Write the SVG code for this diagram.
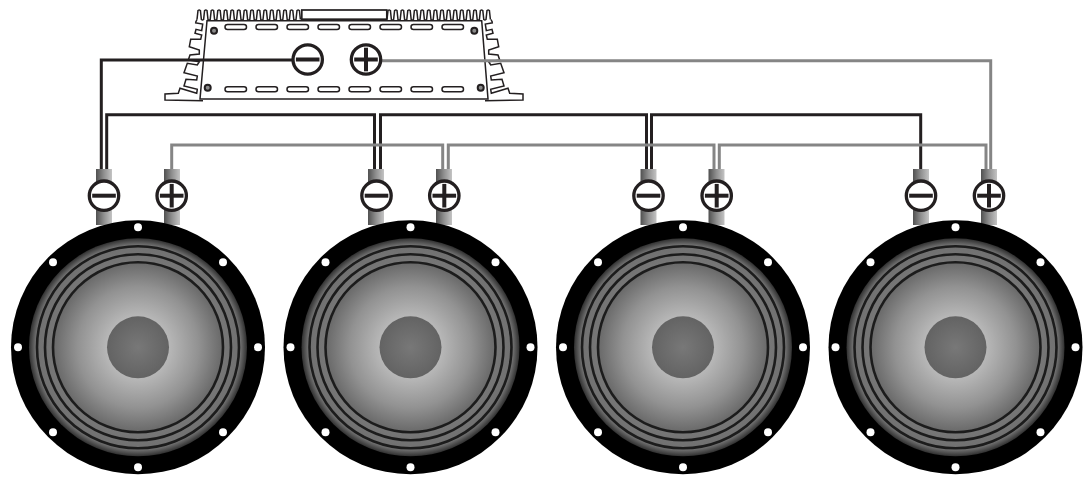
<svg xmlns="http://www.w3.org/2000/svg" xmlns:xlink="http://www.w3.org/1999/xlink" width="1088" height="482" viewBox="0 0 1088 482">
<defs>
<linearGradient id="tube"><stop offset="0" stop-color="#505050"/><stop offset="0.5" stop-color="#909090"/><stop offset="1" stop-color="#c4c4c4"/></linearGradient>
<radialGradient id="cone"><stop offset="0" stop-color="#c6c6c6"/><stop offset="0.38" stop-color="#b6b6b6"/><stop offset="0.72" stop-color="#929292"/><stop offset="1" stop-color="#6a6a6a"/></radialGradient>
<radialGradient id="cap"><stop offset="0" stop-color="#787878"/><stop offset="1" stop-color="#636363"/></radialGradient>
<radialGradient id="surround"><stop offset="0.75" stop-color="#787878"/><stop offset="0.94" stop-color="#707070"/><stop offset="1" stop-color="#303030"/></radialGradient>
<g id="speaker">
<circle r="127" fill="#000"/>
<g fill="#fff"><circle cy="-120" r="4"/><circle cy="120" r="4"/><circle cx="-120" r="4"/><circle cx="120" r="4"/><circle cx="-85" cy="-85" r="4"/><circle cx="85" cy="-85" r="4"/><circle cx="-85" cy="85" r="4"/><circle cx="85" cy="85" r="4"/></g>
<circle r="109" fill="url(#surround)"/>
<circle r="84" fill="url(#cone)"/>
<g fill="none" stroke="#1c1c1c" stroke-width="2.6"><circle r="85"/><circle r="93"/><circle r="101"/></g>
<circle r="31" fill="url(#cap)"/>
</g>
<rect id="tube-shape" x="-8" y="-27" width="16" height="56" fill="url(#tube)"/>
<g id="minus"><circle r="14.7" fill="#fff" stroke="#231f20" stroke-width="3.3"/><rect x="-11.8" y="-2" width="23.6" height="4" fill="#231f20"/></g>
<g id="plus"><circle r="14.7" fill="#fff" stroke="#231f20" stroke-width="3.3"/><rect x="-11.8" y="-2" width="23.6" height="4" fill="#231f20"/><rect x="-2" y="-11.8" width="4" height="23.6" fill="#231f20"/></g>
<path id="teeth" d="M0 10l1-9q1.200-.8 2.400 0l1 9q1.100 .8 2.200 0l1-9q1.200-.8 2.400 0l1 9q1.100 .8 2.200 0l1-9q1.200-.8 2.400 0l1 9q1.100 .8 2.200 0l1-9q1.200-.8 2.400 0l1 9q1.100 .8 2.200 0l1-9q1.200-.8 2.400 0l1 9q1.100 .8 2.200 0l1-9q1.200-.8 2.400 0l1 9q1.100 .8 2.200 0l1-9q1.200-.8 2.400 0l1 9q1.100 .8 2.200 0l1-9q1.200-.8 2.400 0l1 9q1.100 .8 2.200 0l1-9q1.200-.8 2.400 0l1 9q1.100 .8 2.200 0l1-9q1.200-.8 2.400 0l1 9q1.100 .8 2.200 0l1-9q1.200-.8 2.400 0l1 9q1.100 .8 2.200 0l1-9q1.200-.8 2.400 0l1 9q1.100 .8 2.200 0l1-9q1.200-.8 2.400 0l1 9q1.100 .8 2.200 0l1-9q1.200-.8 2.400 0l1 9q1.100 .8 2.200 0l1-9q1.200-.8 2.400 0l1 9q1.100 .8 2.200 0l1-9q1.200-.8 2.400 0l1 9"/>
<path id="fins" d="M195 22.700L202.700 24L201.700 30.700L196 29.300L195 33.300L201.700 35L200.700 39.300L190.700 39.300L189.300 46.700L199.300 50L199.300 54L190 55L188.300 60L199.300 61.700L197.300 65L187.300 63.300L184 72.700L197.300 76L196.700 80L186 79.300L184 86L197.300 89.300L196.700 93.300L180 88.300L178.300 93.300L165 94V100L203 100.700"/>
</defs>
<style>.w{fill:none;stroke-linejoin:miter}.b{stroke:#231f20;stroke-width:3}.g{stroke:#858585;stroke-width:3}.a{fill:none;stroke:#231f20;stroke-width:1.5}</style>
<rect width="1088" height="482" fill="#fff"/>
<g id="amplifier">
<use class="a" href="#teeth" x="197" y="9.500"/>
<use class="a" href="#teeth" x="387" y="9.500"/>
<path class="a" d="M195.500 22.500L197 19.500M492.500 22.500L491 19.500"/>
<rect x="301.800" y="10" width="85" height="9.200" fill="none" stroke="#231f20" stroke-width="1.700"/>
<path class="a" d="M207 20.700H481.700L488 99H200Z"/>
<use class="a" href="#fins"/>
<use class="a" href="#fins" transform="matrix(-1 0 0 1 688 0)"/>
<g class="a">
<rect x="225" y="24.500" width="21.500" height="5" rx="2.500"/><rect x="256" y="24.500" width="21.500" height="5" rx="2.500"/><rect x="287" y="24.500" width="21.500" height="5" rx="2.500"/><rect x="318" y="24.500" width="21.500" height="5" rx="2.500"/><rect x="349" y="24.500" width="21.500" height="5" rx="2.500"/><rect x="380" y="24.500" width="21.500" height="5" rx="2.500"/><rect x="411" y="24.500" width="21.500" height="5" rx="2.500"/><rect x="442" y="24.500" width="21.500" height="5" rx="2.500"/>
<rect x="225" y="86.700" width="21.500" height="5" rx="2.500"/><rect x="256" y="86.700" width="21.500" height="5" rx="2.500"/><rect x="287" y="86.700" width="21.500" height="5" rx="2.500"/><rect x="318" y="86.700" width="21.500" height="5" rx="2.500"/><rect x="349" y="86.700" width="21.500" height="5" rx="2.500"/><rect x="380" y="86.700" width="21.500" height="5" rx="2.500"/><rect x="411" y="86.700" width="21.500" height="5" rx="2.500"/><rect x="442" y="86.700" width="21.500" height="5" rx="2.500"/>
</g>
<g fill="#8a8a8a" stroke="#231f20" stroke-width="2"><circle cx="214" cy="30.700" r="3"/><circle cx="474.300" cy="30.700" r="3"/><circle cx="207.700" cy="87.700" r="3"/><circle cx="480.700" cy="87.700" r="3"/></g>
</g>
<g id="connectors">
<path class="w b" d="M101.300 172V60H294"/>
<path class="w b" d="M106.700 172V114.700H374.500V172"/>
<path class="w b" d="M380.500 172V114.700H646.500V172"/>
<path class="w b" d="M651.500 172V114.700H920.700V172"/>
<path class="w g" d="M171.700 172V145H442.700V172"/>
<path class="w g" d="M448.300 172V145H714V172"/>
<path class="w g" d="M719.300 172V145H986V172"/>
<path class="w g" d="M380 60.700H990.700V172"/>
</g>
<g id="amp-minus"><use href="#minus" x="307.700" y="59.500"/></g>
<g id="amp-plus"><use href="#plus" x="366" y="59.500"/></g>
<g id="speaker-1"><use href="#tube-shape" x="104" y="196"/><use href="#tube-shape" x="172" y="196"/><use href="#speaker" x="138" y="347.300"/><use href="#minus" x="104" y="195.700"/><use href="#plus" x="171.700" y="195.700"/></g>
<g id="speaker-2"><use href="#tube-shape" x="376" y="196"/><use href="#tube-shape" x="444" y="196"/><use href="#speaker" x="410.500" y="347.300"/><use href="#minus" x="376.500" y="195.700"/><use href="#plus" x="444.300" y="195.700"/></g>
<g id="speaker-3"><use href="#tube-shape" x="648.500" y="196"/><use href="#tube-shape" x="716.500" y="196"/><use href="#speaker" x="683" y="347.300"/><use href="#minus" x="648.500" y="195.700"/><use href="#plus" x="716.700" y="195.700"/></g>
<g id="speaker-4"><use href="#tube-shape" x="921" y="196"/><use href="#tube-shape" x="989" y="196"/><use href="#speaker" x="955.500" y="347.300"/><use href="#minus" x="921" y="195.700"/><use href="#plus" x="989" y="195.700"/></g>
</svg>
